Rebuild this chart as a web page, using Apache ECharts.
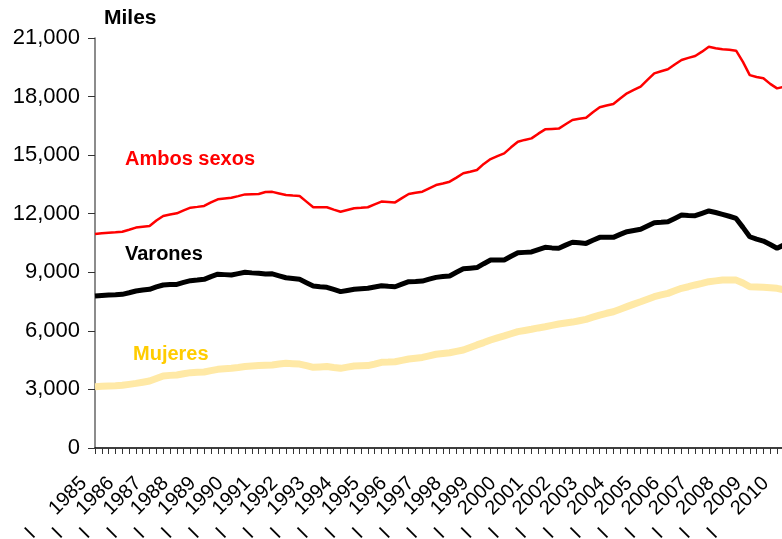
<!DOCTYPE html>
<html>
<head>
<meta charset="utf-8">
<script src="https://cdn.jsdelivr.net/npm/echarts@6/dist/echarts.min.js"></script>
<style>
html,body{margin:0;padding:0;background:#fff;}
#chart{width:782px;height:539px;}
</style>
</head>
<body>
<div id="chart"></div>
<script>
var years = [1985,1986,1987,1988,1989,1990,1991,1992,1993,1994,1995,1996,1997,
	1998,1999,2000,2001,2002,2003,2004,2005,2006,2007,2008,2009,2010];
var quarters = ['I','II','III','IV'];

// ocupados, miles (trimestral)
var ambos = [
	10960,11000,11030,11050, 11080,11180,11290,11330, 11370,11650,11880,11960,
	12020,12170,12310,12350, 12400,12580,12740,12780, 12820,12900,12990,13000,
	13010,13110,13120,13040, 12960,12930,12910,12620, 12330,12330,12330,12210,
	12100,12190,12280,12300, 12330,12480,12620,12600, 12580,12800,13010,13070,
	13130,13300,13470,13550, 13640,13850,14070,14150, 14240,14550,14800,14950,
	15090,15400,15690,15780, 15860,16100,16320,16340, 16360,16580,16800,16860,
	16920,17200,17450,17540, 17620,17900,18170,18340, 18510,18850,19190,19300,
	19400,19640,19870,19980, 20080,20300,20550,20480, 20420,20400,20350,19780,
	19100,19000,18940,18650, 18420,18500,18550,18410
];
var varones = [
	7785,7810,7835,7850, 7870,7950,8040,8090, 8130,8250,8350,8370,
	8380,8480,8570,8600, 8640,8780,8900,8880, 8860,8930,9000,8970,
	8950,8910,8920,8820, 8720,8680,8640,8470, 8300,8260,8230,8120,
	8010,8070,8130,8160, 8180,8250,8310,8280, 8260,8390,8520,8530,
	8550,8650,8740,8780, 8810,9000,9180,9210, 9240,9440,9630,9630,
	9630,9820,10000,10020, 10040,10160,10280,10250, 10230,10390,10540,10510,
	10480,10640,10790,10790, 10790,10940,11080,11140, 11200,11370,11540,11560,
	11590,11760,11930,11910, 11900,12020,12140,12060, 11970,11870,11760,11300,
	10820,10700,10600,10420, 10230,10400,10450,10290
];
var mujeres = [
	3140,3160,3175,3190, 3210,3260,3310,3370, 3430,3560,3690,3720,
	3740,3800,3860,3880, 3890,3960,4030,4060, 4080,4120,4170,4200,
	4220,4240,4250,4300, 4340,4320,4300,4220, 4130,4150,4170,4120,
	4080,4140,4200,4210, 4220,4300,4390,4400, 4420,4490,4560,4600,
	4640,4720,4800,4840, 4880,4950,5020,5150, 5280,5400,5530,5640,
	5740,5850,5960,6020, 6080,6150,6210,6280, 6350,6400,6450,6520,
	6590,6700,6810,6900, 6980,7110,7240,7370, 7490,7620,7750,7840,
	7920,8050,8180,8260, 8350,8430,8520,8560, 8600,8600,8600,8450,
	8260,8250,8230,8210, 8180,8100,8120,8110
];

var categorias = [];
for (var i = 0; i < years.length; i++) {
	for (var q = 0; q < quarters.length; q++) {
		categorias.push(years[i] + ' ' + quarters[q]);
	}
}

var fuente = "'Liberation Sans', Arial, sans-serif";
var myChart = echarts.init(document.getElementById('chart'));
myChart.setOption({
	animation: false,
	textStyle: { fontFamily: fuente },
	title: {
		text: 'Miles',
		left: 99, top: 3,
		textStyle: { fontSize: 21, fontWeight: 'bold', color: '#000', fontFamily: fuente }
	},
	grid: { left: 95, top: 38, bottom: 91, right: -15.5, outerBoundsMode: 'none', containLabel: false },
	xAxis: {
		type: 'category',
		data: categorias,
		boundaryGap: false,
		axisLine: { lineStyle: { color: '#000', width: 1.5 } },
		axisTick: { interval: 0, length: 6, lineStyle: { color: '#333' } },
		axisLabel: {
			// interval 0 para que no se oculten etiquetas; solo se escribe el trimestre I
			interval: 0,
			rotate: 45,
			margin: 21,
			fontSize: 20,
			lineHeight: 14,
			color: '#000',
			padding: [0, 16, 0, 0],
			formatter: function (v) {
				var p = v.split(' ');
				if (p[1] !== 'I') return '';
				return p[1] + '     ' + p[0];
			}
		}
	},
	yAxis: {
		type: 'value',
		min: 0, max: 21000, interval: 3000,
		splitLine: { show: false },
		axisLine: { show: true, lineStyle: { color: '#666', width: 1.5 } },
		axisTick: { show: true, length: 7, lineStyle: { color: '#333' } },
		axisLabel: {
			fontSize: 22, color: '#000', margin: 15,
			formatter: function (v) { return v.toLocaleString('en-US'); }
		}
	},
	series: [
		{ name: 'Mujeres', type: 'line', data: mujeres, symbol: 'none',
			lineStyle: { color: '#FFE9A6', width: 7 } },
		{ name: 'Varones', type: 'line', data: varones, symbol: 'none',
			lineStyle: { color: '#000', width: 5 } },
		{ name: 'Ambos sexos', type: 'line', data: ambos, symbol: 'none',
			lineStyle: { color: '#FF0000', width: 2.5 } }
	],
	graphic: [
		{ type: 'text', left: 125, top: 149,
			style: { text: 'Ambos sexos', fill: '#FF0000', font: 'bold 20px ' + fuente } },
		{ type: 'text', left: 125, top: 244,
			style: { text: 'Varones', fill: '#000', font: 'bold 20px ' + fuente } },
		{ type: 'text', left: 133, top: 344,
			style: { text: 'Mujeres', fill: '#FFCC00', font: 'bold 20px ' + fuente } }
	]
});
</script>
</body>
</html>
